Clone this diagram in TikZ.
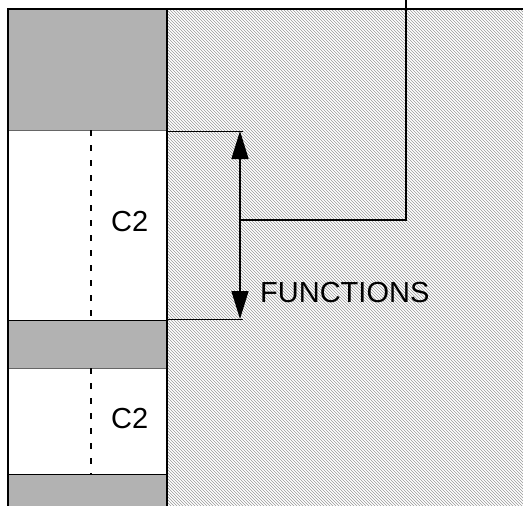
\documentclass[tikz,border=0pt]{standalone}
\usepackage{fontspec}
\setmainfont{Liberation Sans}
\usetikzlibrary{arrows.meta, patterns, positioning}

\begin{document}
\begin{tikzpicture}[
    x=1pt, y=-1pt,
    every node/.style={font=\fontsize{29}{34}\selectfont, inner sep=0pt},
    graybox/.style={draw, fill=black!30, line width=1pt},
    whitebox/.style={draw=black!60, fill=white, line width=0.6pt},
    hatch/.style={pattern=north west lines, pattern color=black!40},
    axis/.style={dashed, line width=2pt, dash pattern=on 6pt off 9pt},
    dimline/.style={line width=1pt},
    arrow/.style={{Triangle[length=28pt,width=17pt]}-{Triangle[length=28pt,width=17pt]}, line width=1.5pt},
    leader/.style={line width=1.5pt}
]
\useasboundingbox (0,0) rectangle (523,506);

% Hatched body
\fill[hatch] (167,9) rectangle (523,506);

% Left strip
\draw[graybox] (8,9) rectangle (167,130);
\draw[whitebox] (8,130) rectangle (167,320);
\draw[graybox] (8,320) rectangle (167,368);
\draw[whitebox] (8,368) rectangle (167,474);
\fill[black!30] (8,474) rectangle (167,506);
\draw[line width=1pt] (8,506) -- (8,474) -- (167,474);

% Outline
\draw[line width=2.5pt] (8,506) -- (8,9) -- (523,9);
\draw[line width=2pt] (167,9) -- (167,506);

% Centre line
\draw[axis] (91,130) -- (91,320);
\draw[axis] (91,368) -- (91,474);

% Nodes
\node[anchor=west] (c2a) at (111,222) {C2};
\node[anchor=west] (c2b) at (111,419) {C2};
\node[anchor=west] (functions) at (260,293) {FUNCTIONS};

% Dimension
\coordinate (dimtop) at (240,131);
\coordinate (dimbot) at (240,319);
\coordinate (dimmid) at (240,220);
\coordinate (lead) at (406,0);
\draw[dimline] (167,131) -- (243,131);
\draw[dimline] (167,319) -- (243,319);
\draw[arrow] (dimtop) -- (dimbot);

% Leader
\draw[leader] (dimmid) -| (lead);

\end{tikzpicture}
\end{document}
